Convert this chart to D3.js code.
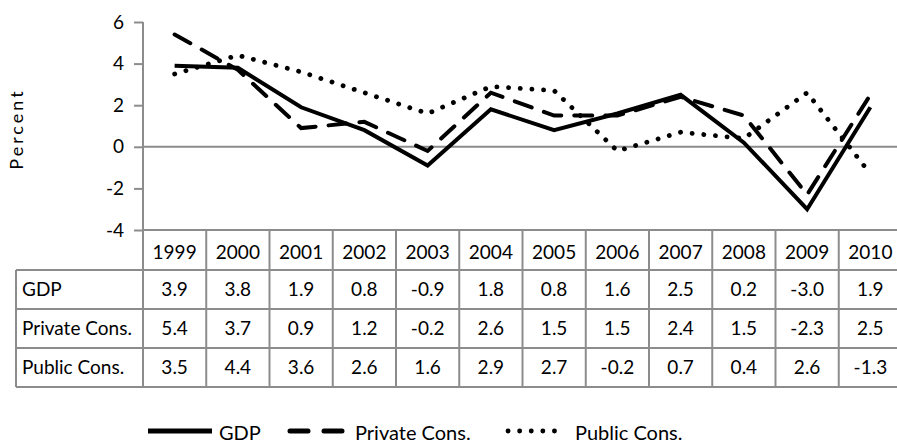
<!DOCTYPE html>
<html><head><meta charset="utf-8">
<script src="https://cdn.jsdelivr.net/npm/d3@7"></script>
<style>
html,body{margin:0;padding:0;background:#fff;}
svg{display:block;font-family:Lato, "Open Sans", sans-serif;}
</style></head>
<body>
<svg id="c" width="897" height="447"></svg>
<script>
const years = ["1999","2000","2001","2002","2003","2004","2005","2006","2007","2008","2009","2010"];
const gdp = [3.9,3.8,1.9,0.8,-0.9,1.8,0.8,1.6,2.5,0.2,-3.0,1.9];
const privateCons = [5.4,3.7,0.9,1.2,-0.2,2.6,1.5,1.5,2.4,1.5,-2.3,2.5];
const publicCons = [3.5,4.4,3.6,2.6,1.6,2.9,2.7,-0.2,0.7,0.4,2.6,-1.3];
const seriesNames = ["GDP","Private Cons.","Public Cons."];
const yTicks = [-4,-2,0,2,4,6];

(function(){
const series = [
  {name: seriesNames[0], values: gdp, dash: null, cap: "butt", w: 4},
  {name: seriesNames[1], values: privateCons, dash: "18 13", cap: "round", w: 4},
  {name: seriesNames[2], values: publicCons, dash: "0.1 11.6", cap: "round", w: 4.8}
];

const svg = d3.select("#c");
const grid = "#8c8c8c";
const pLeft = 143, pRight = 902, pTop = 22, pBottom = 230;
const x = d3.scaleBand().domain(years).range([pLeft, pRight]);
const y = d3.scaleLinear().domain([-4, 6]).range([pBottom, pTop]);

// y axis
const yAxis = svg.append("g").attr("transform", `translate(${pLeft},0)`)
  .call(d3.axisLeft(y).tickValues(yTicks).tickSize(9).tickPadding(10).tickFormat(d => String(d)));
yAxis.select(".domain").attr("stroke", grid).attr("stroke-width", 2).attr("d", `M0,${pTop}V${pBottom}`);
yAxis.selectAll(".tick line").attr("stroke", grid).attr("stroke-width", 2);
yAxis.selectAll(".tick text").attr("fill", "#000").style("font-size", "19px").style("font-family", "Lato");

svg.append("text").attr("transform", "translate(23,129) rotate(-90)")
  .attr("text-anchor", "middle").style("font-size", "18px").style("letter-spacing", "3px").text("Percent");

// zero line
svg.append("line").attr("x1", pLeft).attr("x2", pRight).attr("y1", y(0)).attr("y2", y(0))
  .attr("stroke", grid).attr("stroke-width", 2);

// table
const tableBottom = 387;
const tbl = svg.append("g").attr("stroke", grid).attr("stroke-width", 2);
tbl.append("line").attr("x1", pLeft).attr("x2", pRight).attr("y1", pBottom).attr("y2", pBottom);
[270, 309, 348, tableBottom].forEach(yy => tbl.append("line").attr("x1", 16).attr("x2", pRight).attr("y1", yy).attr("y2", yy));
tbl.append("line").attr("x1", 16).attr("x2", 16).attr("y1", 270).attr("y2", tableBottom);
years.forEach(yr => tbl.append("line").attr("x1", x(yr)).attr("x2", x(yr)).attr("y1", pBottom).attr("y2", tableBottom));

const tf = "19px";
svg.append("g").selectAll("text").data(years).join("text")
  .attr("x", d => x(d) + x.bandwidth()/2).attr("y", 252).attr("dy", "0.35em")
  .attr("text-anchor", "middle").style("font-size", tf).text(d => d);

series.forEach((s, i) => {
  const cy = 289 + i*39;
  svg.append("text").attr("x", 22).attr("y", cy).attr("dy", "0.35em").style("font-size", tf).text(s.name);
  svg.append("g").selectAll("text").data(s.values).join("text")
    .attr("x", (d, j) => x(years[j]) + x.bandwidth()/2).attr("y", cy).attr("dy", "0.35em")
    .attr("text-anchor", "middle").style("font-size", tf).text(d => d.toFixed(1));
});

// lines
const line = d3.line().x((d, j) => x(years[j]) + x.bandwidth()/2).y(d => y(d));
series.slice().reverse().forEach(s => {
  svg.append("path").attr("d", line(s.values)).attr("fill", "none")
    .attr("stroke", "#000").attr("stroke-width", s.w)
    .attr("stroke-dasharray", s.dash).attr("stroke-linecap", s.cap).attr("stroke-linejoin", "miter");
});

// legend
const legY = 431;
const leg = [
  {x1: 148, x2: 212, tx: 219, dash: null, w: 5},
  {x1: 290, x2: 343, tx: 355, dash: "18 16", w: 5},
  {x1: 508, x2: 566, tx: 575, dash: "0.1 11.5", w: 4.8}
];
series.forEach((s, i) => {
  const L = leg[i];
  svg.append("line").attr("x1", L.x1).attr("x2", L.x2).attr("y1", legY).attr("y2", legY)
    .attr("stroke", "#000").attr("stroke-width", L.w)
    .attr("stroke-dasharray", L.dash).attr("stroke-linecap", s.cap);
  svg.append("text").attr("x", L.tx).attr("y", legY + 2).attr("dy", "0.35em").style("font-size", "20px").text(s.name);
});
})();
</script>
</body></html>
